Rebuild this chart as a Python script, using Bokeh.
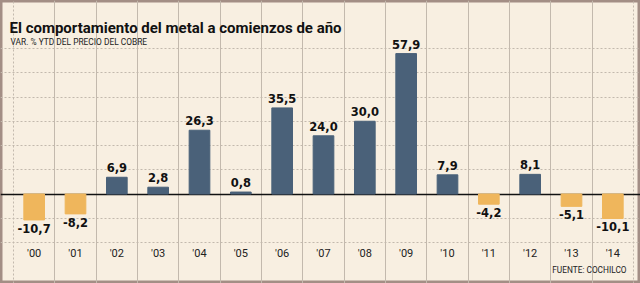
from bokeh.plotting import figure
from bokeh.models import (ColumnDataSource, LabelSet, Label, Grid,
                          FixedTicker, Range1d)
from bokeh.core.properties import value
from bokeh.embed import file_html
from bokeh.resources import INLINE

# Copper price YTD variation (%) at the start of each year
years = ["'00", "'01", "'02", "'03", "'04", "'05", "'06", "'07",
         "'08", "'09", "'10", "'11", "'12", "'13", "'14"]
values = [-10.7, -8.2, 6.9, 2.8, 26.3, 0.8, 35.5, 24.0,
          30.0, 57.9, 7.9, -4.2, 8.1, -5.1, -10.1]
y_guides = [-10, 10, 20, 30, 40, 50]
y_min, y_max = -20, 60

title_text = "El comportamiento del metal a comienzos de año"
subtitle_text = "VAR. % YTD DEL PRECIO DEL COBRE"
source_text = "FUENTE: COCHILCO"

W, H = 640, 283
# plotting box inside the canvas (pixels)
LEFT, RIGHT, TOP, BOTTOM = 13, 633, 48, 242

BG = "#f8efe1"
POS = "#4a6179"
NEG = "#efb65c"
GRID = "#c3b9ad"
HEAD = "Roboto"
SANS = "DejaVu Sans"

n = len(years)
px_x = (RIGHT - LEFT) / n
px_y = (BOTTOM - TOP) / (y_max - y_min)
x0, x1 = -0.5, n - 0.5
x_range = Range1d(x0 - LEFT / px_x, x1 + (W - RIGHT) / px_x)
y_range = Range1d(y_min - (H - BOTTOM) / px_y, y_max + TOP / px_y)

fmt = lambda v: f"{v:.1f}".replace(".", ",")
idx = list(range(n))
src = ColumnDataSource(dict(
    x=idx, top=values,
    color=[POS if v >= 0 else NEG for v in values],
))
pos_src = ColumnDataSource(dict(
    x=[i for i, v in zip(idx, values) if v >= 0],
    y=[v for v in values if v >= 0],
    label=[fmt(v) for v in values if v >= 0],
))
neg_src = ColumnDataSource(dict(
    x=[i for i, v in zip(idx, values) if v < 0],
    y=[v for v in values if v < 0],
    label=[fmt(v) for v in values if v < 0],
))

p = figure(width=W, height=H, output_backend="svg", toolbar_location=None,
           x_range=x_range, y_range=y_range, min_border=0)
p.background_fill_color = BG
p.border_fill_color = BG
p.outline_line_color = "#a38e85"
p.outline_line_width = 4

p.xgrid.visible = False
p.ygrid.visible = False
p.yaxis.visible = False

# category separators
p.add_layout(Grid(dimension=0, ticker=FixedTicker(ticks=[i + 0.5 for i in idx[:-1]]),
                  bounds=(y_min, y_max),
                  grid_line_color=GRID, grid_line_width=1))
# dotted box edges
p.add_layout(Grid(dimension=0, ticker=FixedTicker(ticks=[x0, x1]),
                  bounds=(y_min, y_max),
                  grid_line_color=GRID, grid_line_dash="2 2", grid_line_width=1))
# horizontal dotted guides every 10 points
p.add_layout(Grid(dimension=1, ticker=FixedTicker(ticks=y_guides + [y_min, y_max]),
                  bounds=(x0, x1),
                  grid_line_color=GRID, grid_line_dash="2 2", grid_line_width=1))

p.vbar(x="x", top="top", bottom=0, width=0.5, color="color", source=src)

# zero line
p.add_layout(Grid(dimension=1, ticker=FixedTicker(ticks=[0]), bounds=(x0, x1),
                  grid_line_color="#111111", grid_line_width=1.5))

ax = p.xaxis[0]
ax.fixed_location = y_min
ax.ticker = FixedTicker(ticks=idx)
ax.major_label_overrides = {i: y for i, y in zip(idx, years)}
ax.axis_line_color = None
ax.major_tick_line_color = None
ax.minor_tick_line_color = None
ax.major_tick_out = 0
ax.major_tick_in = 0
ax.major_label_standoff = 4
ax.major_label_text_font = HEAD
ax.major_label_text_font_size = "11px"
ax.major_label_text_color = "#222222"

p.add_layout(LabelSet(x="x", y="y", text="label", source=pos_src,
                      text_align="center", text_baseline="alphabetic", y_offset=5,
                      text_font=value(SANS), text_font_style="bold",
                      text_font_size="11.5px", text_color="#111111"))
p.add_layout(LabelSet(x="x", y="y", text="label", source=neg_src,
                      text_align="center", text_baseline="top", y_offset=-4,
                      text_font=value(SANS), text_font_style="bold",
                      text_font_size="11.5px", text_color="#111111"))

def sx(px):
    return x0 + (px - LEFT) / px_x

def sy(py):
    return y_min + (BOTTOM - py) / px_y

p.add_layout(Label(x=sx(9), y=sy(27.5), text=title_text, text_font=HEAD,
                   text_font_style="bold", text_font_size="15px",
                   text_color="#111111", text_baseline="alphabetic"))
p.add_layout(Label(x=sx(10), y=sy(41.5), text=subtitle_text, text_font=HEAD,
                   text_font_size="8.4px", text_color="#222222",
                   text_baseline="alphabetic"))
p.add_layout(Label(x=sx(626), y=sy(269), text=source_text, text_font=HEAD,
                   text_font_size="8.3px", text_color="#222222",
                   text_align="right", text_baseline="alphabetic"))

open("out.html", "w").write(file_html(p, INLINE))
